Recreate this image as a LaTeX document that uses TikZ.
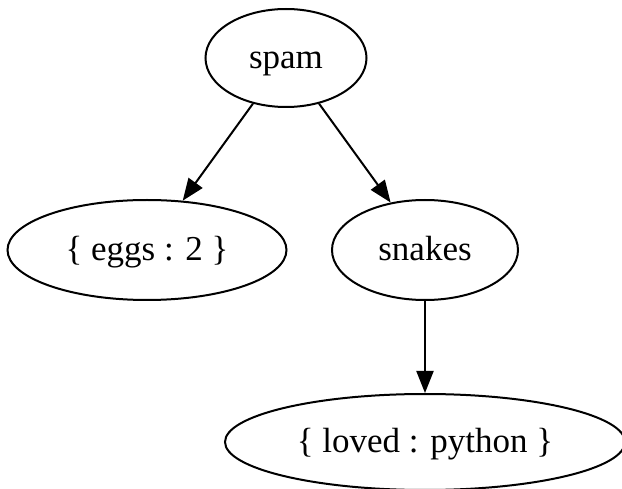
\documentclass[tikz,border=0pt]{standalone}
\usepackage{fontspec}
\setmainfont{Liberation Serif}
\usetikzlibrary{shapes.geometric,arrows.meta}
\begin{document}
\begin{tikzpicture}[x=1pt,y=-1pt,
  gnode/.style={draw,ellipse,line width=2pt,inner sep=0pt,text height=27pt,text depth=5pt,font=\fontsize{35}{40}\selectfont},
  garrow/.style={line width=2pt,-{Triangle[length=22pt,width=17pt]}}]
\useasboundingbox (0,0) rectangle (622,489);
\node[gnode,minimum width=161pt,minimum height=98pt] (spam) at (286,58) {spam};
\node[gnode,minimum width=279pt,minimum height=100pt] (eggs) at (147,250) {\{ eggs : 2 \}};
\node[gnode,minimum width=186pt,minimum height=100pt] (snakes) at (425,250) {snakes};
\node[gnode,minimum width=400pt,minimum height=96pt] (loved) at (425,442) {\{ loved : python \}};
\draw[garrow] (spam) -- (eggs);
\draw[garrow] (spam) -- (snakes);
\draw[garrow] (snakes) -- (loved);
\end{tikzpicture}
\end{document}
